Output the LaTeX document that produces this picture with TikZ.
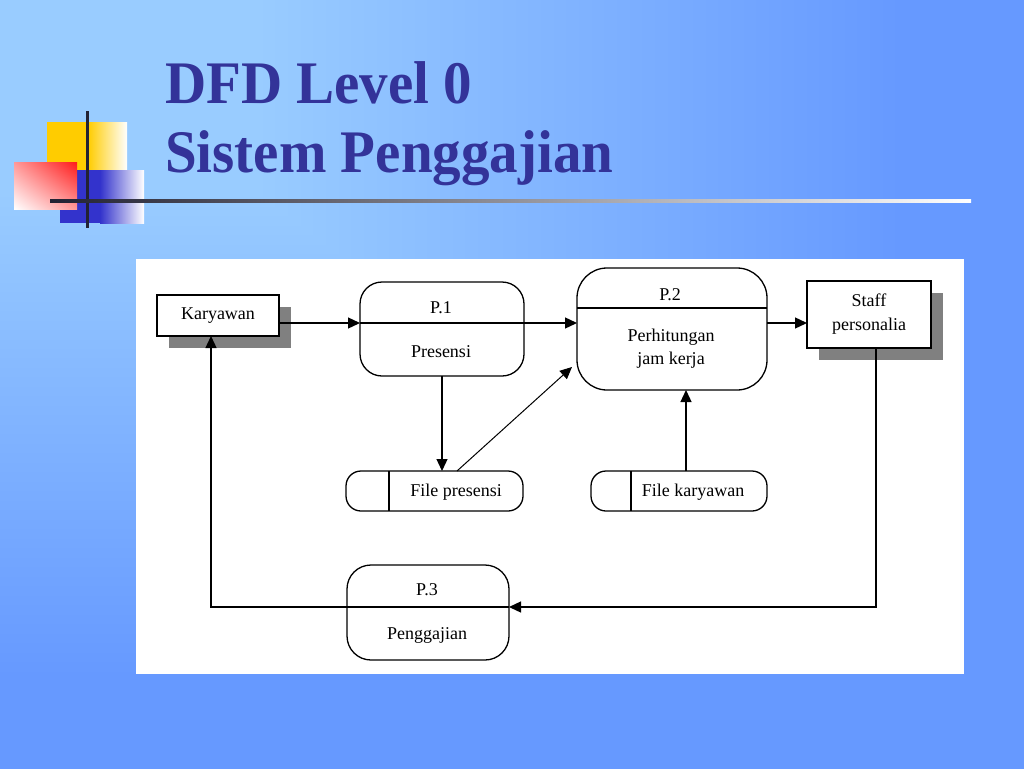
\documentclass[tikz,border=0pt]{standalone}
\usepackage{fontspec}
\setmainfont{Liberation Serif}
\usetikzlibrary{arrows.meta,calc,shadings}
\definecolor{bgA}{HTML}{99CCFF}
\definecolor{bgB}{HTML}{6699FF}
\definecolor{titleblue}{HTML}{333399}
\definecolor{decoyel}{HTML}{FFCC00}
\definecolor{decoblue}{HTML}{3333CC}
\definecolor{decored}{HTML}{FF1A1A}
\definecolor{decoline}{HTML}{222233}
\definecolor{shadowgray}{HTML}{808080}
\pgfdeclarehorizontalshading{bgh}{100bp}{color(0bp)=(bgA); color(37.5bp)=(bgA); color(69bp)=(bgB); color(100bp)=(bgB)}
\pgfdeclareverticalshading{bgv}{100bp}{color(0bp)=(bgB); color(31bp)=(bgB); color(62.5bp)=(bgA); color(100bp)=(bgA)}
\pgfdeclarelayer{bglayer}
\pgfdeclarelayer{shadowlayer}
\pgfsetlayers{bglayer,shadowlayer,main}
\begin{document}
\begin{tikzpicture}[x=1pt,y=-1pt,
  ln/.style={line width=1.3pt, draw=black},
  flow/.style={ln, -{Triangle[length=12pt,width=11pt]}},
  lbl/.style={font=\fontsize{18}{23}\selectfont, inner sep=0pt, align=center},
  ext/.style={ln, fill=white, rectangle, inner sep=0pt, outer sep=0pt, font=\fontsize{18}{24}\selectfont, align=center},
  proc/.style={ln, fill=white, rectangle, rounded corners=#1, inner sep=0pt, outer sep=0pt},
  store/.style={ln, fill=white, rectangle, rounded corners=15pt, inner sep=0pt, outer sep=0pt, minimum width=177pt, minimum height=40pt},
  shadowbox/.style={fill=shadowgray},
  titletext/.style={font=\fontsize{57}{69}\selectfont\bfseries, text=titleblue, inner sep=0pt, anchor=base west}
]
\useasboundingbox (0,0) rectangle (1024,768);
% background: "from corner" gradient
\begin{pgfonlayer}{bglayer}
  \shade[shading=bgv] (0,0) rectangle (1024,768);
  \begin{scope}
    \clip (0,0) -- (1024,0) -- (1024,768) -- cycle;
    \shade[shading=bgh] (0,0) rectangle (1024,768);
  \end{scope}
  % decoration
  \fill[decoyel] (47,122) rectangle (88,172);
  \shade[left color=decoyel, right color=white] (88,122) rectangle (127,172);
  \fill[decoblue] (60,170) rectangle (100,223);
  \shade[left color=decoblue, right color=white] (100,170) rectangle (144,223);
  \shade[upper right=decored, lower left=white, upper left=decored!45!white, lower right=decored!45!white] (14,162) rectangle (77,209);
  \draw[decoline, line width=3pt] (87,111) -- (87,228);
  \shade[left color=decoline, right color=white] (50,199.5) rectangle (971,202.5);
  % white panel
  \fill[white] (136,259) rectangle (964,674);
\end{pgfonlayer}

% title
\node[titletext] (t1) at (165,103) {\scalebox{1}[1.06]{DFD Level 0}};
\node[titletext] (t2) at (165,172) {\scalebox{1}[1.06]{Sistem Penggajian}};

% helper coordinates
\coordinate (r1) at (0,323);
\coordinate (r3) at (0,607);
\coordinate (xl) at (211,0);
\coordinate (xs) at (876,0);
\coordinate (xk) at (686,0);
\coordinate (d2) at (572,367);

% external entities
\node[ext, minimum width=122pt, minimum height=41pt] (kary) at (218,315.5) {Karyawan};
\node[ext, minimum width=124pt, minimum height=67pt] (staff) at (869,314.5) {Staff\\personalia};
\begin{pgfonlayer}{shadowlayer}
  \fill[shadowbox] ($(kary.north west)+(12,12)$) rectangle ($(kary.south east)+(12,12)$);
  \fill[shadowbox] ($(staff.north west)+(12,12)$) rectangle ($(staff.south east)+(12,12)$);
\end{pgfonlayer}

% processes
\node[proc=22pt, minimum width=164pt, minimum height=94pt] (p1) at (442,329) {};
\node[lbl] (p1a) at (441,308) {P.1};
\node[lbl] (p1b) at (441,352) {Presensi};

\node[proc=30pt, minimum width=190pt, minimum height=122pt] (p2) at (672,329) {};
\draw[ln] (p2.west |- 0,308) -- (p2.east |- 0,308);
\node[lbl] (p2a) at (670,295) {P.2};
\node[lbl] (p2b) at (671,349) {Perhitungan\\jam kerja};

\node[proc=24pt, minimum width=162pt, minimum height=95pt] (p3) at (428,612.5) {};
\node[lbl] (p3a) at (427,590) {P.3};
\node[lbl] (p3b) at (427,635) {Penggajian};

% data stores
\node[store] (fp) at (434.5,491) {};
\draw[ln] ($(fp.north west)+(43,0)$) -- ($(fp.south west)+(43,0)$);
\node[lbl] (fpt) at (456,492) {File presensi};

\node[store, minimum width=176pt] (fk) at (679,491) {};
\draw[ln] ($(fk.north west)+(40,0)$) -- ($(fk.south west)+(40,0)$);
\node[lbl] (fkt) at (693,492) {File karyawan};

% flows
\draw[flow] (kary.east |- r1) -- (p1.west |- r1);
\draw[ln] (p1.west |- r1) -- (p1.east |- r1);
\draw[flow] (p1.east |- r1) -- (p2.west |- r1);
\draw[flow] (p2.east |- r1) -- (staff.west |- r1);
\draw[flow] (p1.south) -- (p1.south |- fp.north);
\draw[ln, line width=1pt, -{Triangle[length=12pt,width=11pt]}] ($(fp.north)+(22.5,0)$) -- (d2);
\draw[flow] (fk.north -| xk) -- (p2.south -| xk);
\draw[flow] (staff.south -| xs) |- (p3.east |- r3);
\draw[ln] (p3.east |- r3) -- (p3.west |- r3);
\draw[flow] (p3.west |- r3) -| (kary.south -| xl);
\end{tikzpicture}
\end{document}
